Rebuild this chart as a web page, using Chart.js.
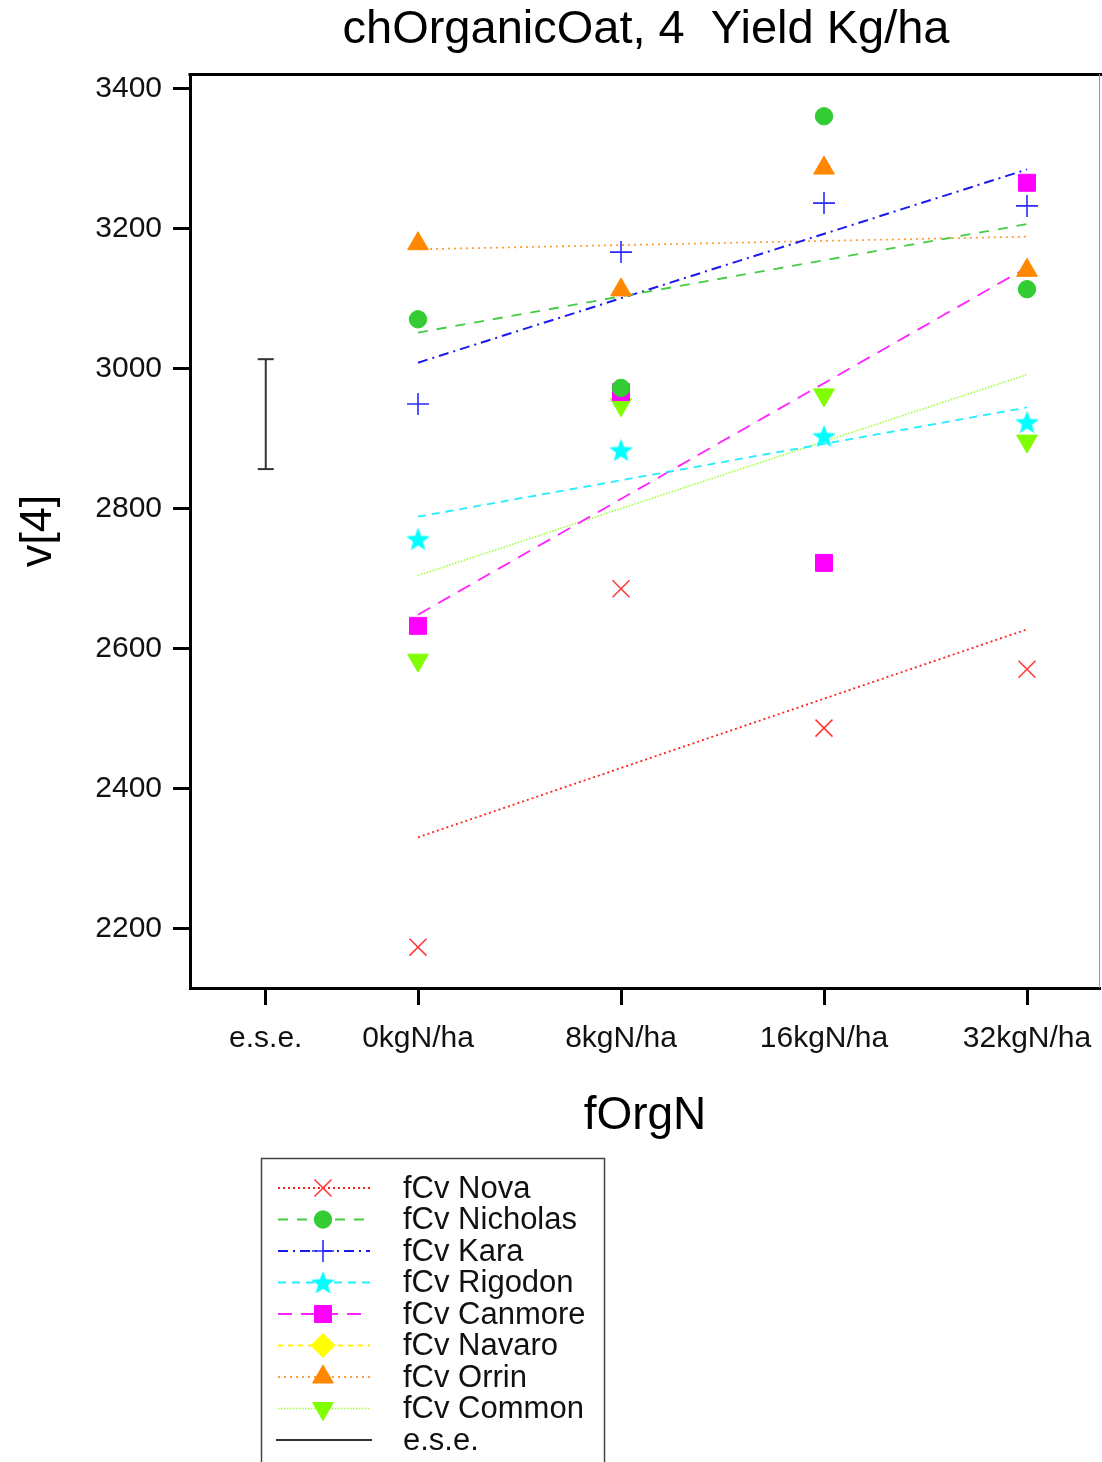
<!DOCTYPE html>
<html><head><meta charset="utf-8">
<script src="https://cdn.jsdelivr.net/npm/chart.js@4.4.0/dist/chart.umd.min.js"></script>
<style>html,body{margin:0;padding:0;background:#fff;} canvas{display:block;}</style>
</head><body>
<canvas id="c" width="1102" height="1462"></canvas>
<script>
// ---------------- data ----------------
const chartTitle = 'chOrganicOat, 4  Yield Kg/ha';
const xTitle = 'fOrgN';
const yTitle = 'v[4]';
const xLabels = ['e.s.e.', '0kgN/ha', '8kgN/ha', '16kgN/ha', '32kgN/ha'];
const xPositions = [0.25, 1, 2, 3, 4];
const levelPositions = [1, 2, 3, 4];
const fitPositions = [1, 4];
const yTicks = [2200, 2400, 2600, 2800, 3000, 3200, 3400];
const cultivars = ['fCv Nova', 'fCv Nicholas', 'fCv Kara', 'fCv Rigodon', 'fCv Canmore', 'fCv Navaro', 'fCv Orrin', 'fCv Common'];

const nova     = [2174, 2686, 2487, 2571];
const nicholas = [3071, 2973, 3361, 3114];
const kara     = [2950, 3167, 3237, 3233];
const rigodon  = [2757, 2884, 2904, 2924];
const canmore  = [2633, 2967, 2723, 3266];
const navaro   = [];
const orrin    = [3179, 3113, 3287, 3141];
const common   = [2584, 2949, 2963, 2897];

// fitted trend lines: value at 0kgN/ha and at 32kgN/ha
const novaFit     = [2331, 2628];
const nicholasFit = [3052, 3207];
const karaFit     = [3009, 3285];
const rigodonFit  = [2789, 2945];
const canmoreFit  = [2649, 3145];
const navaroFit   = [];
const orrinFit    = [3171, 3189];
const commonFit   = [2705, 2992];

const eseLabel = 'e.s.e.';
const eseRange = [2857, 3014];

const seriesValues = [nova, nicholas, kara, rigodon, canmore, navaro, orrin, common];
const seriesFits = [novaFit, nicholasFit, karaFit, rigodonFit, canmoreFit, navaroFit, orrinFit, commonFit];

// ---------------- styles ----------------
const FONT = "'Liberation Sans', Arial, Helvetica, sans-serif";
Chart.defaults.font.family = FONT;
Chart.defaults.color = '#000';

function makeStar(color, r) {
  const s = Math.ceil(r * 2) + 2;
  const cv = document.createElement('canvas');
  cv.width = s; cv.height = s;
  const g = cv.getContext('2d');
  const cx = s / 2, cy = s / 2 + 1;
  g.beginPath();
  for (let i = 0; i < 10; i++) {
    const rad = i % 2 === 0 ? r : r * 0.42;
    const a = -Math.PI / 2 + i * Math.PI / 5;
    const px = cx + rad * Math.cos(a), py = cy + rad * Math.sin(a);
    if (i === 0) g.moveTo(px, py); else g.lineTo(px, py);
  }
  g.closePath();
  g.fillStyle = color;
  g.fill();
  return cv;
}

const markerColors = ['#ff3b3b', '#33cc33', '#2a2aff', '#00ffff', '#ff00ff', '#ffff00', '#ff8800', '#80ff00'];
const lineColors   = ['#ff2020', '#44cc44', '#1a1aee', '#22eeff', '#ff22ff', '#ffee00', '#ffa040', '#a0ff40'];
const pointStyles  = ['crossRot', 'circle', 'cross', makeStar('#00ffff', 12.5), 'rect', 'rectRot', 'triangle', 'triangle'];
const pointRots    = [0, 0, 0, 0, 0, 0, 0, 180];
const pointRadii   = [12, 8.7, 11, 12, 12, 12, 12, 12];
const pointBorders = [1.6, 1, 1.6, 1, 1, 1, 1, 1];
const lineDashes   = [[2, 3], [10, 9], [10, 5, 2, 5], [8, 6], [14, 9], [5, 5], [2, 4], [1.5, 1.5]];
const lineWidths   = [1.8, 1.8, 2, 1.8, 1.8, 1.8, 1.8, 1.6];

// ---------------- datasets ----------------
const datasets = [];
cultivars.forEach((name, i) => {
  datasets.push({
    label: name + ' fit',
    data: seriesFits[i].map((v, k) => ({ x: fitPositions[k], y: v })),
    showLine: true,
    borderColor: lineColors[i],
    borderWidth: lineWidths[i],
    borderDash: lineDashes[i],
    pointRadius: 0,
    fill: false,
    order: 2
  });
});
cultivars.forEach((name, i) => {
  datasets.push({
    label: name,
    data: seriesValues[i].map((v, k) => ({ x: levelPositions[k], y: v })),
    showLine: false,
    pointStyle: pointStyles[i],
    rotation: pointRots[i],
    pointRadius: pointRadii[i],
    backgroundColor: markerColors[i],
    borderColor: markerColors[i],
    pointBorderWidth: pointBorders[i],
    order: 1
  });
});
datasets.push({
  label: eseLabel,
  data: eseRange.map(v => ({ x: xPositions[0], y: v })),
  showLine: true,
  borderColor: '#333',
  borderWidth: 2,
  pointStyle: 'line',
  pointRadius: 8,
  pointBorderWidth: 2,
  pointBorderColor: '#333',
  order: 0
});

// ---------------- plugins ----------------
const titleShiftPlugin = {
  id: 'titleShift',
  afterLayout(chart) {
    const tb = chart.titleBlock;
    if (tb) {
      tb.left = chart.chartArea.left;
      tb.right = chart.width;
    }
  }
};

const framePlugin = {
  id: 'frame',
  afterDraw(chart) {
    const { ctx, chartArea: a } = chart;
    ctx.save();
    ctx.strokeStyle = '#000';
    ctx.lineWidth = 3;
    ctx.beginPath();
    ctx.moveTo(a.left - 1.5, a.top + 0.5);
    ctx.lineTo(chart.width, a.top + 0.5);
    ctx.stroke();
    ctx.strokeStyle = '#999';
    ctx.lineWidth = 1;
    ctx.beginPath();
    ctx.moveTo(a.right - 0.5, a.top);
    ctx.lineTo(a.right - 0.5, a.bottom);
    ctx.stroke();
    ctx.restore();
  }
};

const legendPlugin = {
  id: 'boxLegend',
  afterDraw(chart) {
    const ctx = chart.ctx;
    const left = chart.chartArea.left + 71;
    const top = chart.scales.x.bottom + 10;
    const boxW = 343;
    ctx.save();
    ctx.strokeStyle = '#444';
    ctx.lineWidth = 1.5;
    ctx.strokeRect(left + 0.5, top + 0.5, boxW, chart.height - top + 20);
    const x0 = left + 17, x1 = left + 109, xm = left + 62, xt = left + 142;
    const step = 31.5;
    const items = cultivars.concat([eseLabel]);
    items.forEach((name, i) => {
      const y = top + 30 + i * step;
      ctx.save();
      if (i < cultivars.length) {
        ctx.strokeStyle = lineColors[i];
        ctx.lineWidth = lineWidths[i];
        ctx.setLineDash(lineDashes[i]);
      } else {
        ctx.strokeStyle = '#333';
        ctx.lineWidth = 2;
        ctx.setLineDash([]);
      }
      ctx.beginPath();
      ctx.moveTo(i < cultivars.length ? x0 : x0 - 2, y);
      ctx.lineTo(i < cultivars.length ? x1 : x1 + 2, y);
      ctx.stroke();
      ctx.setLineDash([]);
      if (i < cultivars.length) {
        ctx.fillStyle = markerColors[i];
        ctx.strokeStyle = markerColors[i];
        ctx.lineWidth = pointBorders[i];
        Chart.helpers.drawPoint(ctx, {
          pointStyle: pointStyles[i],
          rotation: pointRots[i],
          radius: pointRadii[i],
          borderWidth: pointBorders[i]
        }, xm, y);
      }
      ctx.restore();
      ctx.fillStyle = '#111';
      ctx.font = '31px ' + FONT;
      ctx.textBaseline = 'middle';
      ctx.textAlign = 'left';
      ctx.fillText(name, xt, y + 1);
    });
    ctx.restore();
  }
};

// ---------------- chart ----------------
new Chart(document.getElementById('c'), {
  type: 'scatter',
  data: { datasets },
  options: {
    responsive: false,
    animation: false,
    events: [],
    layout: { autoPadding: false, padding: { top: 0, left: 0, right: 2, bottom: 314 } },
    plugins: {
      legend: { display: false },
      tooltip: { enabled: false },
      title: {
        display: true,
        text: chartTitle,
        color: '#000',
        font: { size: 47, weight: 'normal', family: FONT },
        padding: { top: 2, bottom: 15.6 }
      }
    },
    scales: {
      x: {
        type: 'linear',
        min: -0.1232,
        max: 4.3596,
        afterBuildTicks: s => { s.ticks = xPositions.map(v => ({ value: v })); },
        afterFit: s => { s.height = 160; s.paddingLeft = 0; s.paddingRight = 0; },
        ticks: {
          callback: v => xLabels[xPositions.indexOf(v)],
          font: { size: 30 },
          color: '#111',
          padding: 16,
          maxRotation: 0,
          autoSkip: false
        },
        grid: { drawOnChartArea: false, drawTicks: true, tickLength: 17, tickWidth: 3, tickColor: '#000' },
        border: { display: true, width: 3, color: '#000' },
        title: { display: true, text: xTitle, color: '#000', font: { size: 46 }, padding: { top: 0, bottom: 4.4 } }
      },
      y: {
        type: 'linear',
        min: 2115.7,
        max: 3421.4,
        afterBuildTicks: s => { s.ticks = yTicks.map(v => ({ value: v })); },
        afterFit: s => { s.width = 190; s.paddingTop = 0; s.paddingBottom = 0; },
        ticks: {
          callback: v => String(v),
          font: { size: 30 },
          color: '#111',
          padding: 11
        },
        grid: { drawOnChartArea: false, drawTicks: true, tickLength: 17, tickWidth: 3, tickColor: '#000' },
        border: { display: true, width: 3, color: '#000' },
        title: { display: true, text: yTitle, color: '#000', font: { size: 45 }, padding: { top: 12, bottom: 0 } }
      }
    }
  },
  plugins: [titleShiftPlugin, framePlugin, legendPlugin]
});
</script>
</body></html>
